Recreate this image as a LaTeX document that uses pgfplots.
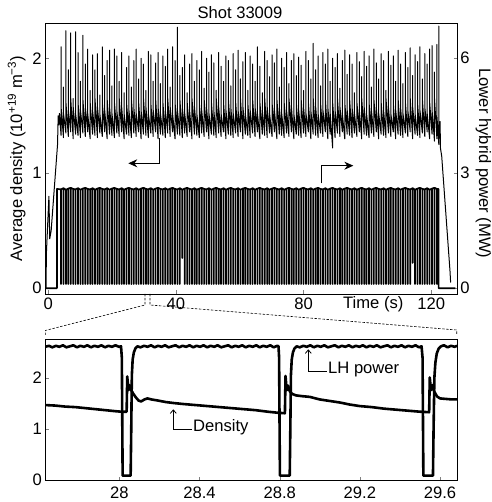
\documentclass[border=0pt]{standalone}
\usepackage{fontspec}
\setmainfont{Liberation Sans}
\usepackage{pgfplots}
\pgfplotsset{compat=1.18}
\usetikzlibrary{arrows.meta}
\newcommand{\fs}{\fontsize{16.6bp}{19bp}\selectfont}
\begin{document}
\begin{tikzpicture}[x=1bp,y=1bp,font=\fs]
\path (0,0) rectangle (492,502);
\pgfplotsset{every axis/.append style={scale only axis, line width=0.8bp, tick align=inside,
  major tick length=3.5bp, /pgf/number format/assume math mode=true,
  tick label style={font=\fs}, scaled ticks=false}}
% ---------------- top panel, density (left axis)
\begin{axis}[at={(45bp,208bp)}, anchor=south west, width=412bp, height=271bp,
  xmin=-1.03, xmax=128.1, ymin=-0.05, ymax=2.307,
  xtick={0,40,80,120}, ytick={0,1,2}, xtick pos=bottom, ytick pos=left,
  xticklabel style={inner sep=0pt, anchor=north, yshift=-4bp},
  yticklabel style={inner sep=0pt, anchor=east, xshift=-3bp}]
\addplot[line width=1.0bp, line join=round] coordinates {
(-0.7,0.00)(-0.6,0.30)(0.2,0.80)(0.45,0.43)(0.9,0.50)(2.9,1.25)(3.1,1.50)(3.3,1.42)(3.5,1.52)
(4.00,1.33)(4.00,2.10)(4.00,1.58)
(4.76,1.31)(4.76,1.75)(4.76,1.52)
(5.52,1.35)(5.52,2.24)(5.52,1.62)
(6.28,1.32)(6.28,1.90)(6.28,1.55)
(7.04,1.36)(7.04,2.22)(7.04,1.65)
(7.80,1.30)(7.80,1.65)(7.80,1.58)
(8.56,1.34)(8.56,2.23)(8.56,1.52)
(9.32,1.33)(9.32,2.05)(9.32,1.62)
(10.08,1.31)(10.08,1.80)(10.08,1.55)
(10.84,1.35)(10.84,2.20)(10.84,1.65)
(11.60,1.32)(11.60,1.95)(11.60,1.58)
(12.36,1.36)(12.36,2.08)(12.36,1.52)
(13.12,1.30)(13.12,1.72)(13.12,1.62)
(13.88,1.34)(13.88,2.03)(13.88,1.55)
(14.64,1.33)(14.64,1.90)(14.64,1.65)
(15.40,1.31)(15.40,2.04)(15.40,1.58)
(16.16,1.35)(16.16,1.68)(16.16,1.52)
(16.92,1.32)(16.92,2.10)(16.92,1.62)
(17.68,1.36)(17.68,1.85)(17.68,1.55)
(18.44,1.30)(18.44,1.98)(18.44,1.65)
(19.20,1.34)(19.20,2.07)(19.20,1.58)
(19.96,1.33)(19.96,1.76)(19.96,1.52)
(20.72,1.31)(20.72,2.08)(20.72,1.62)
(21.48,1.35)(21.48,2.02)(21.48,1.55)
(22.24,1.32)(22.24,1.80)(22.24,1.65)
(23.00,1.36)(23.00,2.05)(23.00,1.58)
(23.76,1.30)(23.76,1.70)(23.76,1.52)
(24.52,1.34)(24.52,1.92)(24.52,1.62)
(25.28,1.33)(25.28,2.02)(25.28,1.55)
(26.04,1.31)(26.04,1.75)(26.04,1.65)
(26.80,1.35)(26.80,1.98)(26.80,1.58)
(27.56,1.32)(27.56,2.08)(27.56,1.52)
(28.32,1.36)(28.32,1.82)(28.32,1.62)
(29.08,1.30)(29.08,2.00)(29.08,1.55)
(29.84,1.34)(29.84,1.95)(29.84,1.65)
(30.60,1.33)(30.60,1.72)(30.60,1.58)
(31.36,1.31)(31.36,2.06)(31.36,1.52)
(32.12,1.35)(32.12,2.03)(32.12,1.62)
(32.88,1.32)(32.88,1.80)(32.88,1.55)
(33.64,1.36)(33.64,1.96)(33.64,1.65)
(34.40,1.30)(34.40,2.05)(34.40,1.58)
(35.16,1.34)(35.16,1.78)(35.16,1.52)
(35.92,1.33)(35.92,2.02)(35.92,1.62)
(36.68,1.31)(36.68,1.93)(36.68,1.55)
(37.44,1.35)(37.44,2.08)(37.44,1.65)
(38.20,1.32)(38.20,1.75)(38.20,1.58)
(38.96,1.36)(38.96,2.10)(38.96,1.52)
(39.72,1.30)(39.72,1.98)(39.72,1.62)
(40.48,1.34)(40.48,2.27)(40.48,1.55)
(41.24,1.33)(41.24,1.85)(41.24,1.65)
(42.00,1.31)(42.00,1.92)(42.00,1.58)
(42.76,1.35)(42.76,2.03)(42.76,1.52)
(43.52,1.32)(43.52,1.70)(43.52,1.62)
(44.28,1.36)(44.28,1.95)(44.28,1.55)
(45.04,1.30)(45.04,2.04)(45.04,1.65)
(45.80,1.34)(45.80,1.80)(45.80,1.58)
(46.56,1.33)(46.56,1.98)(46.56,1.52)
(47.32,1.31)(47.32,1.90)(47.32,1.62)
(48.08,1.35)(48.08,2.06)(48.08,1.55)
(48.84,1.32)(48.84,1.74)(48.84,1.65)
(49.60,1.36)(49.60,2.00)(49.60,1.58)
(50.36,1.30)(50.36,1.88)(50.36,1.52)
(51.12,1.34)(51.12,2.03)(51.12,1.62)
(51.88,1.33)(51.88,1.96)(51.88,1.55)
(52.64,1.31)(52.64,1.72)(52.64,1.65)
(53.40,1.35)(53.40,2.05)(53.40,1.58)
(54.16,1.32)(54.16,1.93)(54.16,1.52)
(54.92,1.36)(54.92,1.80)(54.92,1.62)
(55.68,1.30)(55.68,2.02)(55.68,1.55)
(56.44,1.34)(56.44,1.98)(56.44,1.65)
(57.20,1.33)(57.20,1.76)(57.20,1.58)
(57.96,1.31)(57.96,2.04)(57.96,1.52)
(58.72,1.35)(58.72,1.90)(58.72,1.62)
(59.48,1.32)(59.48,2.07)(59.48,1.55)
(60.24,1.36)(60.24,1.82)(60.24,1.65)
(61.00,1.30)(61.00,1.97)(61.00,1.58)
(61.76,1.34)(61.76,2.05)(61.76,1.52)
(62.52,1.33)(62.52,1.72)(62.52,1.62)
(63.28,1.31)(63.28,2.02)(63.28,1.55)
(64.04,1.35)(64.04,1.95)(64.04,1.65)
(64.80,1.32)(64.80,1.80)(64.80,1.58)
(65.56,1.36)(65.56,2.10)(65.56,1.52)
(66.32,1.30)(66.32,1.93)(66.32,1.62)
(67.08,1.34)(67.08,1.70)(67.08,1.55)
(67.84,1.33)(67.84,2.06)(67.84,1.65)
(68.60,1.31)(68.60,1.98)(68.60,1.58)
(69.36,1.35)(69.36,1.84)(69.36,1.52)
(70.12,1.32)(70.12,2.03)(70.12,1.62)
(70.88,1.36)(70.88,1.96)(70.88,1.55)
(71.64,1.30)(71.64,2.08)(71.64,1.65)
(72.40,1.34)(72.40,1.75)(72.40,1.58)
(73.16,1.33)(73.16,2.00)(73.16,1.52)
(73.92,1.31)(73.92,1.92)(73.92,1.62)
(74.68,1.35)(74.68,2.05)(74.68,1.55)
(75.44,1.32)(75.44,1.78)(75.44,1.65)
(76.20,1.36)(76.20,1.98)(76.20,1.58)
(76.96,1.30)(76.96,2.04)(76.96,1.52)
(77.72,1.34)(77.72,1.85)(77.72,1.62)
(78.48,1.33)(78.48,2.01)(78.48,1.55)
(79.24,1.31)(79.24,1.94)(79.24,1.65)
(80.00,1.35)(80.00,1.72)(80.00,1.58)
(80.76,1.32)(80.76,2.06)(80.76,1.52)
(81.52,1.36)(81.52,1.98)(81.52,1.62)
(82.28,1.30)(82.28,1.82)(82.28,1.55)
(83.04,1.34)(83.04,2.13)(83.04,1.65)
(83.80,1.33)(83.80,1.90)(83.80,1.58)
(84.56,1.31)(84.56,2.02)(84.56,1.52)
(85.32,1.35)(85.32,1.76)(85.32,1.62)
(86.08,1.32)(86.08,2.05)(86.08,1.55)
(86.84,1.36)(86.84,1.95)(86.84,1.65)
(87.60,1.30)(87.60,2.08)(87.60,1.58)
(88.36,1.34)(88.36,1.80)(88.36,1.52)
(89.12,1.22)(89.12,2.00)(89.12,1.62)
(89.88,1.31)(89.88,1.92)(89.88,1.55)
(90.64,1.35)(90.64,2.04)(90.64,1.65)
(91.40,1.32)(91.40,1.74)(91.40,1.58)
(92.16,1.36)(92.16,1.98)(92.16,1.52)
(92.92,1.30)(92.92,2.07)(92.92,1.62)
(93.68,1.34)(93.68,1.86)(93.68,1.55)
(94.44,1.33)(94.44,2.03)(94.44,1.65)
(95.20,1.31)(95.20,1.95)(95.20,1.58)
(95.96,1.35)(95.96,1.70)(95.96,1.52)
(96.72,1.32)(96.72,2.05)(96.72,1.62)
(97.48,1.36)(97.48,1.97)(97.48,1.55)
(98.24,1.30)(98.24,1.84)(98.24,1.65)
(99.00,1.34)(99.00,2.06)(99.00,1.58)
(99.76,1.33)(99.76,1.93)(99.76,1.52)
(100.52,1.31)(100.52,2.02)(100.52,1.62)
(101.28,1.35)(101.28,1.75)(101.28,1.55)
(102.04,1.32)(102.04,2.08)(102.04,1.65)
(102.80,1.36)(102.80,1.96)(102.80,1.58)
(103.56,1.30)(103.56,1.82)(103.56,1.52)
(104.32,1.34)(104.32,2.04)(104.32,1.62)
(105.08,1.33)(105.08,1.98)(105.08,1.55)
(105.84,1.31)(105.84,1.72)(105.84,1.65)
(106.60,1.35)(106.60,2.06)(106.60,1.58)
(107.36,1.32)(107.36,1.94)(107.36,1.52)
(108.12,1.36)(108.12,2.02)(108.12,1.62)
(108.88,1.30)(108.88,1.80)(108.88,1.55)
(109.64,1.34)(109.64,2.07)(109.64,1.65)
(110.40,1.33)(110.40,1.95)(110.40,1.58)
(111.16,1.31)(111.16,1.78)(111.16,1.52)
(111.92,1.35)(111.92,2.05)(111.92,1.62)
(112.68,1.32)(112.68,1.92)(112.68,1.55)
(113.44,1.36)(113.44,2.09)(113.44,1.65)
(114.20,1.30)(114.20,1.85)(114.20,1.58)
(114.96,1.34)(114.96,2.03)(114.96,1.52)
(115.72,1.33)(115.72,1.97)(115.72,1.62)
(116.48,1.31)(116.48,2.10)(116.48,1.55)
(117.24,1.35)(117.24,1.82)(117.24,1.65)
(118.00,1.32)(118.00,2.04)(118.00,1.58)
(118.76,1.36)(118.76,1.95)(118.76,1.52)
(119.52,1.30)(119.52,2.08)(119.52,1.62)
(120.28,1.34)(120.28,2.11)(120.28,1.55)
(121.04,1.28)(121.04,1.88)(121.04,1.65)
(121.80,1.30)(121.80,2.12)(121.80,1.50)
(122.40,1.25)(122.40,2.28)(122.45,1.30)(122.8,1.45)(122.9,1.22)(123.3,1.15)(125.9,0.15)(126.1,0.05)
};
\end{axis}
% ---------------- top panel, LH power (right axis)
\begin{axis}[at={(45bp,208bp)}, anchor=south west, width=412bp, height=271bp,
  xmin=-1.03, xmax=128.1, ymin=-0.15, ymax=6.92,
  axis x line=none, axis y line*=right, ytick={0,3,6}, ytick pos=right,
  yticklabel style={inner sep=0pt, anchor=west, xshift=3bp}]
\addplot[line width=1.7bp, line join=round] coordinates {
(-1.0,0)(2.70,0)(2.72,2.59)
(4.00,2.58)(4.00,0.11)(4.00,2.58)(4.76,2.61)(4.76,0.11)(4.76,2.61)(5.52,2.57)(5.52,0.11)(5.52,2.57)
(6.28,2.60)(6.28,0.11)(6.28,2.60)(7.04,2.62)(7.04,0.11)(7.04,2.62)(7.80,2.59)(7.80,0.11)(7.80,2.59)
(8.56,2.58)(8.56,0.11)(8.56,2.58)(9.32,2.61)(9.32,0.11)(9.32,2.61)(10.08,2.57)(10.08,0.11)(10.08,2.57)
(10.84,2.60)(10.84,0.11)(10.84,2.60)(11.60,2.62)(11.60,0.11)(11.60,2.62)(12.36,2.59)(12.36,0.11)(12.36,2.59)
(13.12,2.58)(13.12,0.11)(13.12,2.58)(13.88,2.61)(13.88,0.11)(13.88,2.61)(14.64,2.57)(14.64,0.11)(14.64,2.57)
(15.40,2.60)(15.40,0.11)(15.40,2.60)(16.16,2.62)(16.16,0.11)(16.16,2.62)(16.92,2.59)(16.92,0.11)(16.92,2.59)
(17.68,2.58)(17.68,0.11)(17.68,2.58)(18.44,2.61)(18.44,0.11)(18.44,2.61)(19.20,2.57)(19.20,0.11)(19.20,2.57)
(19.96,2.60)(19.96,0.11)(19.96,2.60)(20.72,2.62)(20.72,0.11)(20.72,2.62)(21.48,2.59)(21.48,0.11)(21.48,2.59)
(22.24,2.58)(22.24,0.11)(22.24,2.58)
(23.00,2.61)(23.00,0.11)(23.00,2.61)(23.76,2.57)(23.76,0.11)(23.76,2.57)(24.52,2.60)(24.52,0.11)(24.52,2.60)
(25.28,2.62)(25.28,0.11)(25.28,2.62)(26.04,2.59)(26.04,0.11)(26.04,2.59)(26.80,2.58)(26.80,0.11)(26.80,2.58)
(27.56,2.61)(27.56,0.11)(27.56,2.61)(28.32,2.57)(28.32,0.11)(28.32,2.57)(29.08,2.60)(29.08,0.11)(29.08,2.60)
(29.84,2.62)(29.84,0.11)(29.84,2.62)(30.60,2.59)(30.60,0.11)(30.60,2.59)(31.36,2.58)(31.36,0.11)(31.36,2.58)
(32.12,2.61)(32.12,0.11)(32.12,2.61)(32.88,2.57)(32.88,0.11)(32.88,2.57)(33.64,2.60)(33.64,0.11)(33.64,2.60)
(34.40,2.62)(34.40,0.11)(34.40,2.62)(35.16,2.59)(35.16,0.11)(35.16,2.59)(35.92,2.58)(35.92,0.11)(35.92,2.58)
(36.68,2.61)(36.68,0.11)(36.68,2.61)(37.44,2.57)(37.44,0.11)(37.44,2.57)(38.20,2.60)(38.20,0.11)(38.20,2.60)
(38.96,2.62)(38.96,0.11)(38.96,2.62)(39.72,2.59)(39.72,0.11)(39.72,2.59)(40.48,2.58)(40.48,0.11)(40.48,2.58)
(41.24,2.61)(41.24,0.11)(41.24,2.61)
(42.00,2.57)(42.00,0.79)(42.00,2.57)(42.76,2.60)(42.76,0.11)(42.76,2.60)(43.52,2.62)(43.52,0.11)(43.52,2.62)
(44.28,2.59)(44.28,0.11)(44.28,2.59)(45.04,2.58)(45.04,0.11)(45.04,2.58)(45.80,2.61)(45.80,0.11)(45.80,2.61)
(46.56,2.57)(46.56,0.11)(46.56,2.57)(47.32,2.60)(47.32,0.11)(47.32,2.60)(48.08,2.62)(48.08,0.11)(48.08,2.62)
(48.84,2.59)(48.84,0.11)(48.84,2.59)(49.60,2.58)(49.60,0.11)(49.60,2.58)(50.36,2.61)(50.36,0.11)(50.36,2.61)
(51.12,2.57)(51.12,0.11)(51.12,2.57)(51.88,2.60)(51.88,0.11)(51.88,2.60)(52.64,2.62)(52.64,0.11)(52.64,2.62)
(53.40,2.59)(53.40,0.11)(53.40,2.59)(54.16,2.58)(54.16,0.11)(54.16,2.58)(54.92,2.61)(54.92,0.11)(54.92,2.61)
(55.68,2.57)(55.68,0.11)(55.68,2.57)(56.44,2.60)(56.44,0.11)(56.44,2.60)(57.20,2.62)(57.20,0.11)(57.20,2.62)
(57.96,2.59)(57.96,0.11)(57.96,2.59)(58.72,2.58)(58.72,0.11)(58.72,2.58)(59.48,2.61)(59.48,0.11)(59.48,2.61)
(60.24,2.57)(60.24,0.11)(60.24,2.57)
(61.00,2.60)(61.00,0.11)(61.00,2.60)(61.76,2.62)(61.76,0.11)(61.76,2.62)(62.52,2.59)(62.52,0.11)(62.52,2.59)
(63.28,2.58)(63.28,0.11)(63.28,2.58)(64.04,2.61)(64.04,0.11)(64.04,2.61)(64.80,2.57)(64.80,0.11)(64.80,2.57)
(65.56,2.60)(65.56,0.11)(65.56,2.60)(66.32,2.62)(66.32,0.11)(66.32,2.62)(67.08,2.59)(67.08,0.11)(67.08,2.59)
(67.84,2.58)(67.84,0.11)(67.84,2.58)(68.60,2.61)(68.60,0.11)(68.60,2.61)(69.36,2.57)(69.36,0.11)(69.36,2.57)
(70.12,2.60)(70.12,0.11)(70.12,2.60)(70.88,2.62)(70.88,0.11)(70.88,2.62)(71.64,2.59)(71.64,0.11)(71.64,2.59)
(72.40,2.58)(72.40,0.11)(72.40,2.58)(73.16,2.61)(73.16,0.11)(73.16,2.61)(73.92,2.57)(73.92,0.11)(73.92,2.57)
(74.68,2.60)(74.68,0.11)(74.68,2.60)(75.44,2.62)(75.44,0.11)(75.44,2.62)(76.20,2.59)(76.20,0.11)(76.20,2.59)
(76.96,2.58)(76.96,0.11)(76.96,2.58)(77.72,2.61)(77.72,0.11)(77.72,2.61)(78.48,2.57)(78.48,0.11)(78.48,2.57)
(79.24,2.60)(79.24,0.11)(79.24,2.60)
(80.00,2.62)(80.00,0.11)(80.00,2.62)(80.76,2.59)(80.76,0.11)(80.76,2.59)(81.52,2.58)(81.52,0.11)(81.52,2.58)
(82.28,2.61)(82.28,0.11)(82.28,2.61)(83.04,2.57)(83.04,0.11)(83.04,2.57)(83.80,2.60)(83.80,0.11)(83.80,2.60)
(84.56,2.62)(84.56,0.11)(84.56,2.62)(85.32,2.59)(85.32,0.11)(85.32,2.59)(86.08,2.58)(86.08,0.11)(86.08,2.58)
(86.84,2.61)(86.84,0.11)(86.84,2.61)(87.60,2.57)(87.60,0.11)(87.60,2.57)(88.36,2.60)(88.36,0.11)(88.36,2.60)
(89.12,2.62)(89.12,0.11)(89.12,2.62)(89.88,2.59)(89.88,0.11)(89.88,2.59)(90.64,2.58)(90.64,0.11)(90.64,2.58)
(91.40,2.61)(91.40,0.11)(91.40,2.61)(92.16,2.57)(92.16,0.11)(92.16,2.57)(92.92,2.60)(92.92,0.11)(92.92,2.60)
(93.68,2.62)(93.68,0.11)(93.68,2.62)(94.44,2.59)(94.44,0.11)(94.44,2.59)(95.20,2.58)(95.20,0.11)(95.20,2.58)
(95.96,2.61)(95.96,0.11)(95.96,2.61)(96.72,2.57)(96.72,0.11)(96.72,2.57)(97.48,2.60)(97.48,0.11)(97.48,2.60)
(98.24,2.62)(98.24,0.11)(98.24,2.62)
(99.00,2.59)(99.00,0.11)(99.00,2.59)(99.76,2.58)(99.76,0.11)(99.76,2.58)(100.52,2.61)(100.52,0.11)(100.52,2.61)
(101.28,2.57)(101.28,0.11)(101.28,2.57)(102.04,2.60)(102.04,0.11)(102.04,2.60)(102.80,2.62)(102.80,0.11)(102.80,2.62)
(103.56,2.59)(103.56,0.11)(103.56,2.59)(104.32,2.58)(104.32,0.11)(104.32,2.58)(105.08,2.61)(105.08,0.11)(105.08,2.61)
(105.84,2.57)(105.84,0.11)(105.84,2.57)(106.60,2.60)(106.60,0.11)(106.60,2.60)(107.36,2.62)(107.36,0.11)(107.36,2.62)
(108.12,2.59)(108.12,0.11)(108.12,2.59)(108.88,2.58)(108.88,0.11)(108.88,2.58)(109.64,2.61)(109.64,0.11)(109.64,2.61)
(110.40,2.57)(110.40,0.11)(110.40,2.57)(111.16,2.60)(111.16,0.11)(111.16,2.60)(111.92,2.62)(111.92,0.11)(111.92,2.62)
(112.68,2.59)(112.68,0.11)(112.68,2.59)(113.44,2.58)(113.44,0.11)(113.44,2.58)(114.20,2.61)(114.20,0.66)(114.20,2.61)
(114.96,2.57)(114.96,0.11)(114.96,2.57)(115.72,2.60)(115.72,0.11)(115.72,2.60)(116.48,2.62)(116.48,0.11)(116.48,2.62)
(117.24,2.59)(117.24,0.11)(117.24,2.59)
(118.00,2.58)(118.00,0.11)(118.00,2.58)(118.76,2.61)(118.76,0.11)(118.76,2.61)(119.52,2.57)(119.52,0.11)(119.52,2.57)
(120.28,2.60)(120.28,0.11)(120.28,2.60)(121.04,2.62)(121.04,0.11)(121.04,2.62)(121.80,2.59)(121.80,0.11)(121.80,2.59)
(122.30,2.59)(122.33,0)(127.6,0)
};
\end{axis}
% ---------------- bottom panel
\begin{axis}[at={(45.3bp,21.3bp)}, anchor=south west, width=411.7bp, height=141.4bp,
  xmin=27.630, xmax=29.685, ymin=-0.01, ymax=2.757,
  xtick={28,28.4,28.8,29.2,29.6}, ytick={0,1,2}, xtick pos=bottom, ytick pos=left,
  xticklabel style={inner sep=0pt, anchor=north, yshift=-5.5bp},
  yticklabel style={inner sep=0pt, anchor=east, xshift=-3bp}]
\addplot[line width=2.6bp, line join=round] coordinates {
(27.630,2.61)(27.648,2.63)(27.665,2.60)(27.683,2.63)(27.700,2.61)(27.718,2.64)(27.735,2.60)(27.753,2.62)
(27.770,2.64)(27.788,2.60)(27.805,2.63)(27.823,2.61)(27.840,2.64)(27.858,2.60)(27.875,2.63)(27.893,2.61)
(27.910,2.64)(27.928,2.60)(27.945,2.63)(27.963,2.61)(27.980,2.64)(27.998,2.61)(28.008,2.62)
(28.012,2.40)(28.016,0.09)(28.056,0.09)(28.059,1.00)(28.062,2.05)(28.066,2.36)(28.072,2.50)(28.080,2.58)
(28.090,2.62)(28.105,2.60)(28.123,2.63)(28.140,2.61)(28.158,2.64)(28.175,2.60)(28.193,2.63)(28.210,2.61)
(28.228,2.64)(28.245,2.60)(28.263,2.62)(28.280,2.64)(28.298,2.60)(28.315,2.63)(28.333,2.61)(28.350,2.64)
(28.368,2.60)(28.385,2.63)(28.403,2.61)(28.420,2.64)(28.438,2.60)(28.455,2.63)(28.473,2.61)(28.490,2.64)
(28.508,2.60)(28.525,2.62)(28.543,2.64)(28.560,2.60)(28.578,2.63)(28.595,2.61)(28.613,2.64)(28.630,2.60)
(28.648,2.63)(28.665,2.61)(28.683,2.64)(28.700,2.60)(28.718,2.63)(28.735,2.61)(28.753,2.64)(28.770,2.60)
(28.788,2.63)(28.794,2.62)(28.797,2.40)(28.801,0.09)(28.850,0.09)(28.853,1.00)(28.856,2.05)(28.860,2.36)
(28.866,2.50)(28.874,2.58)(28.885,2.62)(28.900,2.60)(28.918,2.63)(28.935,2.61)(28.953,2.64)(28.970,2.60)
(28.988,2.63)(29.005,2.61)(29.023,2.64)(29.040,2.60)(29.058,2.62)(29.075,2.64)(29.093,2.60)(29.110,2.63)
(29.128,2.61)(29.145,2.64)(29.163,2.60)(29.180,2.63)(29.198,2.61)(29.215,2.64)(29.233,2.60)(29.250,2.63)
(29.268,2.61)(29.285,2.64)(29.303,2.60)(29.320,2.62)(29.338,2.64)(29.355,2.60)(29.373,2.63)(29.390,2.61)
(29.408,2.64)(29.425,2.60)(29.443,2.63)(29.460,2.61)(29.478,2.64)(29.495,2.60)(29.508,2.62)
(29.513,2.40)(29.517,0.09)(29.565,0.09)(29.568,1.00)(29.572,2.00)(29.577,2.30)(29.584,2.48)(29.594,2.58)
(29.605,2.62)(29.620,2.64)(29.638,2.60)(29.655,2.63)(29.673,2.61)(29.685,2.63)
};
\addplot[line width=2.6bp, line join=round] coordinates {
(27.630,1.47)(27.680,1.46)(27.730,1.44)(27.780,1.43)(27.830,1.41)(27.880,1.39)(27.930,1.37)(27.980,1.35)
(28.010,1.34)(28.036,1.34)(28.039,2.03)(28.045,1.76)(28.051,1.86)(28.058,1.77)(28.068,1.70)(28.080,1.63)
(28.095,1.56)(28.108,1.54)(28.125,1.58)(28.140,1.60)(28.160,1.58)(28.190,1.56)(28.230,1.53)(28.270,1.51)
(28.320,1.49)(28.380,1.47)(28.440,1.45)(28.500,1.43)(28.560,1.41)(28.620,1.39)(28.680,1.37)(28.740,1.34)
(28.790,1.32)(28.826,1.31)(28.829,2.04)(28.835,1.76)(28.842,1.85)(28.850,1.74)(28.862,1.69)(28.880,1.66)
(28.910,1.645)(28.950,1.63)(29.000,1.58)(29.050,1.55)(29.100,1.52)(29.150,1.48)(29.200,1.45)(29.260,1.43)
(29.320,1.40)(29.380,1.38)(29.440,1.36)(29.500,1.34)(29.546,1.33)(29.549,2.01)(29.555,1.76)(29.562,1.86)
(29.572,1.73)(29.585,1.64)(29.600,1.60)(29.630,1.59)(29.660,1.58)(29.685,1.58)
};
\end{axis}
% ---------------- annotations
\draw[line width=0.8bp, -{Stealth[length=9bp,width=8bp,inset=3bp]}] (159.3,364) -- (159.3,338.7) -- (128.3,338.7);
\draw[line width=0.8bp, -{Stealth[length=9bp,width=8bp,inset=3bp]}] (321,318.7) -- (321,336.3) -- (353.3,336.3);
\draw[line width=0.8bp, -{Straight Barb[length=3.5bp,width=6bp]}] (191.7,72.7) -- (173.3,72.7) -- (173.3,92.7);
\node[anchor=base west, inner sep=0pt] at (193,70.3) {Density};
\draw[line width=0.8bp, -{Straight Barb[length=3.5bp,width=6bp]}] (326.7,130.3) -- (308.3,130.3) -- (308.3,152.7);
\node[anchor=base west, inner sep=0pt] at (328,128) {LH power};
\draw[line width=0.6bp, dash pattern=on 2.5bp off 1.5bp] (145,208) -- (145,197) -- (45.3,171.5) -- (45.3,167);
\draw[line width=0.6bp, dash pattern=on 2.5bp off 1.5bp] (150,208) -- (150,197) -- (456.7,172) -- (456.7,167);
\node[rotate=90, inner sep=0pt] at (16.7,343.5) {Average density (10\textsuperscript{+19} m\textsuperscript{−3})};
\node[rotate=-90, inner sep=0pt] at (483.5,338.5) {Lower hybrid power (MW)};
\node[anchor=north, inner sep=0pt] at (373.3,206) {Time (s)};
\node[inner sep=0pt] at (240,489.5) {Shot 33009};
\end{tikzpicture}
\end{document}
